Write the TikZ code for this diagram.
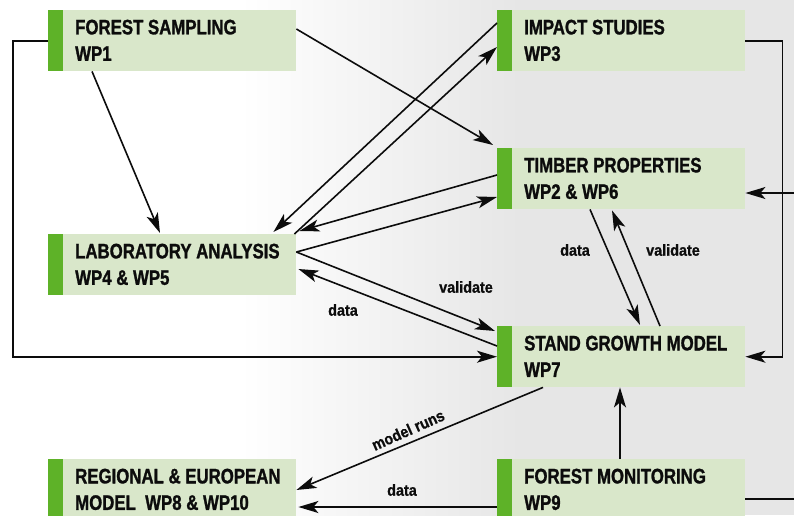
\documentclass[tikz,border=0pt]{standalone}
\usepackage{fontspec}
\usetikzlibrary{arrows.meta,calc}
\newfontfamily\boxfont{Liberation Sans}[FakeStretch=0.8,FakeBold=1.2]
\newfontfamily\lblfont{Liberation Sans}[FakeStretch=0.9,FakeBold=0.8]
\definecolor{boxfill}{RGB}{217,231,202}
\definecolor{bargreen}{RGB}{94,178,40}
\definecolor{bggray}{RGB}{230,230,230}
\definecolor{ink}{RGB}{12,12,12}
\begin{document}
\begin{tikzpicture}[x=1pt,y=-1pt,
  wpbox/.style={rectangle, fill=boxfill, minimum width=248pt, minimum height=61pt, inner sep=0pt, anchor=north west,
     path picture={\fill[bargreen] (path picture bounding box.north west) rectangle ([xshift=15pt]path picture bounding box.south west);}},
  wptext/.style={anchor=north west, inner sep=0pt, align=left, text=ink, font=\boxfont\bfseries\fontsize{21}{26.5}\selectfont},
  flowlbl/.style={inner sep=1pt, text=ink, font=\lblfont\bfseries\fontsize{16}{18}\selectfont},
  arr/.style={draw=ink, line width=1.6pt, -{Stealth[length=20pt,width=12pt,inset=5pt]}},
  conn/.style={draw=ink, line width=1.6pt}]
\useasboundingbox (0,0) rectangle (794,515);
% background
\fill[white] (0,0) rectangle (794,515);
\shade[left color=white, right color=bggray] (240,0) rectangle (520,515);
\fill[bggray] (520,0) rectangle (794,515);

% boxes
\node[wpbox] (fs)  at (48,10)  {};
\node[wpbox] (imp) at (497,10) {};
\node[wpbox] (tim) at (497,148) {};
\node[wpbox] (lab) at (48,234) {};
\node[wpbox] (sgm) at (497,326) {};
\node[wpbox] (reg) at (48,459) {};
\node[wpbox] (mon) at (497,459) {};

\node[wptext] (fs-t)  at ($(fs.north west)+(27,9.5)$)  {FOREST SAMPLING\\WP1};
\node[wptext] (imp-t) at ($(imp.north west)+(27,9.5)$) {IMPACT STUDIES\\WP3};
\node[wptext] (tim-t) at ($(tim.north west)+(27,9.5)$) {TIMBER PROPERTIES\\WP2 \& WP6};
\node[wptext] (lab-t) at ($(lab.north west)+(27,9.5)$) {LABORATORY ANALYSIS\\WP4 \& WP5};
\node[wptext] (sgm-t) at ($(sgm.north west)+(27,9.5)$) {STAND GROWTH MODEL\\WP7};
\node[wptext] (reg-t) at ($(reg.north west)+(27,9.5)$) {REGIONAL \& EUROPEAN\\MODEL\ \ WP8 \& WP10};
\node[wptext] (mon-t) at ($(mon.north west)+(27,9.5)$) {FOREST MONITORING\\WP9};

% off-canvas coordinates
\coordinate (offr) at (805,499);
\coordinate (offt) at (805,193);

% connectors
\draw[arr] ($(fs.north east)+(0,19)$) -- ($(tim.north west)+(-4,-3)$);
\draw[arr] ($(fs.south west)+(44,0)$) -- ($(lab.north west)+(112,-1)$);
\draw[arr] (fs.west) -- ++(-35,0) |- (sgm.west);

\draw[arr] ($(imp.north west)+(0,13)$) -- ($(lab.north east)+(-23,-2)$);
\draw[arr] ($(lab.north east)+(-2,0)$) -- ($(imp.north west)+(0,37)$);

\draw[arr] ($(tim.north west)+(0,27)$) -- ($(lab.north east)+(3,-3)$);
\draw[arr] ($(lab.north east)+(0,18)$) -- ($(tim.north west)+(0,49)$);

\draw[arr] ($(lab.north east)+(0,18)$) -- ($(sgm.north west)+(-2,5)$);
\draw[arr] ($(sgm.north west)+(0,20)$) -- ($(lab.north east)+(2,35)$);

\draw[arr] ($(tim.south west)+(93,0)$) -- ($(sgm.north west)+(143,-1)$);
\draw[arr] ($(sgm.north west)+(163,0)$) -- ($(tim.south west)+(115,1)$);

\draw[arr] (imp.east) -- ++(37,0) |- (sgm.east);
\draw[conn] ($(mon.north east)+(0,40)$) -- (offr) -- (offt);
\draw[arr] (offt) -- ($(tim.north east)+(0,45)$);

\draw[arr] ($(sgm.south west)+(46,0)$) -- ($(reg.north east)+(0,31)$);
\draw[arr] ($(mon.north west)+(0,48)$) -- ($(reg.north east)+(2,48)$);
\draw[arr] ($(mon.north west)+(123,0)$) -- ($(sgm.south west)+(123,0)$);

% labels
\node[flowlbl] (l-val1) at (466,287) {validate};
\node[flowlbl] (l-dat1) at (343,310) {data};
\node[flowlbl] (l-dat2) at (575,250) {data};
\node[flowlbl] (l-val2) at (673,250) {validate};
\node[flowlbl, rotate=24] (l-runs) at (408,430) {model runs};
\node[flowlbl] (l-dat3) at (402,490) {data};
\end{tikzpicture}
\end{document}
